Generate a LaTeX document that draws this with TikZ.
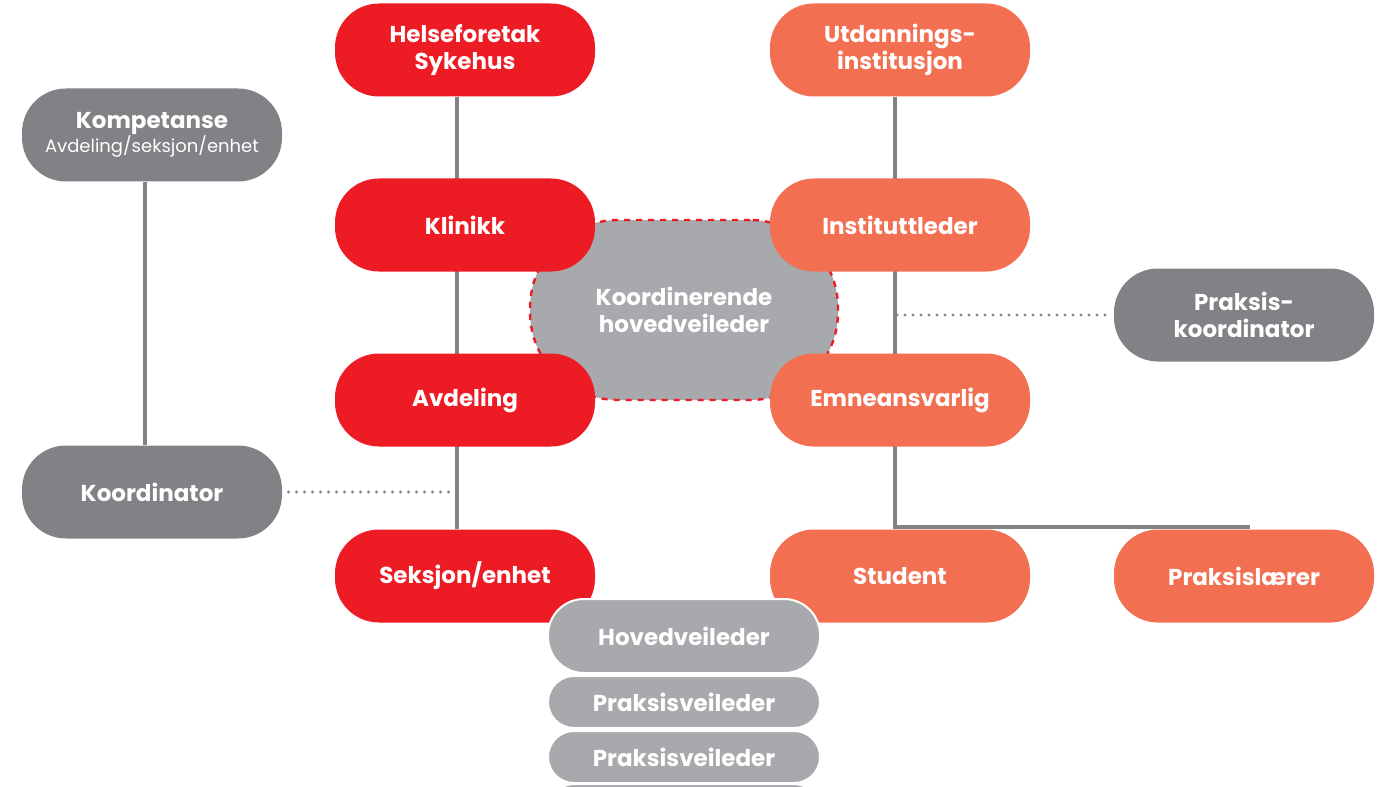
\documentclass[tikz,border=0pt]{standalone}
\usepackage{fontspec}
\setmainfont{Poppins}
\usetikzlibrary{positioning, backgrounds}

\definecolor{hsred}{HTML}{ED1C24}
\definecolor{uorange}{HTML}{F26F52}
\definecolor{dgrey}{HTML}{808285}
\definecolor{lgrey}{HTML}{A7A9AC}

\begin{document}
\begin{tikzpicture}[
    x=0.5pt, y=-0.5pt,
    % --- stiler ---
    pill/.style={
            rounded corners=22pt,
            align=center,
            minimum height=46.5pt,
            minimum width=130pt,
            text=white,
            font=\bfseries\fontsize{11.5}{13.5}\selectfont
        },
    redbox/.style={pill, fill=hsred},
    orangebox/.style={pill, fill=uorange},
    greybox/.style={pill, fill=dgrey},
    stackbox/.style={pill, fill=lgrey, draw=white, line width=1pt, minimum width=136pt, minimum height=26pt, rounded corners=13pt},
    link/.style={draw=dgrey, line width=2pt},
    dots/.style={draw=dgrey, line width=1.6pt, line cap=round, dash pattern=on 0pt off 4pt}
    ]
    \useasboundingbox (0,0) rectangle (1400,786);
    \clip (0,0) rectangle (1400,786);

    % --- midten ---
    \node[pill, fill=lgrey, draw=hsred, dashed, line width=1.2pt, minimum width=154pt, minimum height=90pt, rounded corners=44pt] (koordhv) at (684,310) {Koordinerende\\hovedveileder};

    % --- helseforetak (venstre kolonne) ---
    \node[redbox] (helse) at (465,50) {Helseforetak\\Sykehus};
    \node[redbox] (klinikk) at (465,225) {Klinikk};
    \node[redbox] (avd) at (465,400) {Avdeling};
    \node[redbox] (seksjon) at (465,576) {Seksjon/enhet};

    % --- utdanning (hoeyre kolonne) ---
    \node[orangebox] (utd) at (900,50) {Utdannings-\\institusjon};
    \node[orangebox] (inst) at (900,225) {Instituttleder};
    \node[orangebox] (emne) at (900,400) {Emneansvarlig};
    \node[orangebox] (student) at (900,576) {Student};
    \node[orangebox] (plaerer) at (1244,576) {Praksislærer};

    % --- graa bokser ---
    \node[greybox] (pkoord) at (1244,315) {Praksis-\\koordinator};
    \node[greybox, font=\normalfont] (komp) at (152,135) {{\bfseries\fontsize{11.5}{13.5}\selectfont Kompetanse}\\{\fontsize{9}{11}\selectfont Avdeling/seksjon/enhet}};
    \node[greybox] (koord) at (152,492) {Koordinator};

    % --- veiledere ---
    \node[stackbox, minimum height=37pt, rounded corners=18pt] (hovedv) at (684,636) {Hovedveileder};
    \node[stackbox] (pveil1) at (684,702) {Praksisveileder};
    \node[stackbox] (pveil2) at (684,757) {Praksisveileder};
    \node[stackbox] (pveil3) at (684,810) {};

    % --- linjer ---
    \begin{scope}[on background layer]
        \draw[link] ([xshift=-4pt]helse.south) -- ([xshift=-4pt]seksjon.north);
        \draw[link] ([xshift=-2.5pt]utd.south) -- ([xshift=-2.5pt]student.north);
        \draw[link] ([xshift=-3.5pt]komp.south) -- ([xshift=-3.5pt]koord.north);
        \coordinate (bend) at ([xshift=-2.5pt, yshift=-40pt]emne.south);
        \draw[link] (bend) -| ([xshift=2pt]plaerer.north);
        \coordinate (redline) at ([xshift=-4pt]avd.south |- koord.east);
        \draw[dots] ([xshift=3pt]koord.east) -- (redline);
        \coordinate (orline) at ([xshift=-1.5pt]inst.south |- pkoord.west);
        \draw[dots] (orline) -- ([xshift=-3pt]pkoord.west);
    \end{scope}

\end{tikzpicture}
\end{document}
